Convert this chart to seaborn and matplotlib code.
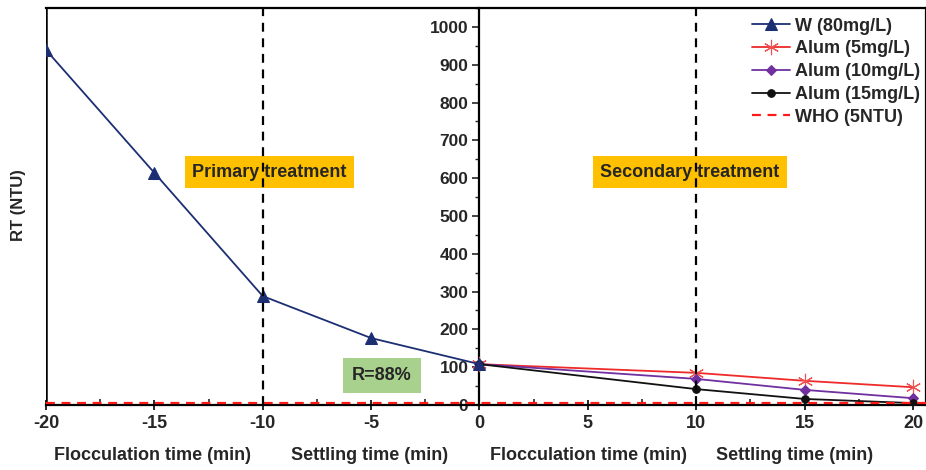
import matplotlib
matplotlib.use("Agg")
import matplotlib.pyplot as plt
import seaborn as sns
import pandas as pd
from matplotlib.ticker import MultipleLocator

sns.set_theme(style="white")
plt.rcParams['font.family'] = ['Liberation Sans', 'DejaVu Sans']
plt.rcParams['font.weight'] = 'bold'

# Data
w_x = [-20, -15, -10, -5, 0]
w_y = [939, 614, 288, 177, 108]
alum_x = [0, 10, 15, 20]
alum5_y = [108, 85, 64, 47]
alum10_y = [108, 69, 40, 18]
alum15_y = [108, 42, 16, 5]
who_x = [-20, 20.6]
who_y = [5, 5]
xticks = [-20, -15, -10, -5, 0, 5, 10, 15, 20]
yticks = [0, 100, 200, 300, 400, 500, 600, 700, 800, 900, 1000]
bottom_labels = ["Flocculation time (min)", "Settling time (min)",
                 "Flocculation time (min)", "Settling time (min)"]

FS = 13

fig = plt.figure(figsize=(9.26, 4.70), dpi=100)
ax = fig.add_axes([46/926, 1-405/470, 1-46/926, (405-8)/470])

sns.lineplot(x=w_x, y=w_y, ax=ax, color="#1c2f73", marker="^", markersize=8,
             markeredgecolor="#1c2f73", linewidth=1.3, label="W (80mg/L)", zorder=5)
sns.lineplot(x=alum_x, y=alum5_y, ax=ax, color="#ee2a2a", marker=(6, 2, 0), markersize=11,
             markeredgecolor="#f05050", markeredgewidth=0.8, linewidth=1.3, label="Alum (5mg/L)", zorder=4)
sns.lineplot(x=alum_x, y=alum10_y, ax=ax, color="#7030a0", marker="D", markersize=5.5,
             markeredgecolor="#7030a0", linewidth=1.3, label="Alum (10mg/L)", zorder=4)
sns.lineplot(x=alum_x, y=alum15_y, ax=ax, color="#111111", marker="o", markersize=5.5,
             markeredgecolor="#111111", linewidth=1.3, label="Alum (15mg/L)", zorder=4)
sns.lineplot(x=who_x, y=who_y, ax=ax, color="#ff1a1a", linestyle=(0, (4, 3)), linewidth=1.6,
             label="WHO (5NTU)", zorder=6)

ax.set_xlim(-20, 20.6)
ax.set_ylim(0, 1050)

# vertical dashed separators
for xv in (-10, 10):
    ax.axvline(xv, color="black", linestyle=(0, (4, 3)), linewidth=1.6, zorder=7)
# left border
ax.axvline(-20, color="black", linewidth=1.8, zorder=3)

# spines
ax.spines['left'].set_position(('data', 0))
for s in ('left', 'bottom', 'top', 'right'):
    ax.spines[s].set_color('black')
    ax.spines[s].set_linewidth(1.6)

ax.set_xticks(xticks)
ax.set_xticklabels([str(t) for t in xticks], fontsize=FS, fontweight='bold')
ax.xaxis.set_minor_locator(MultipleLocator(2.5))
ax.set_yticks(yticks)
ax.set_yticklabels([str(t) for t in yticks], fontsize=12.5, fontweight='bold')
ax.yaxis.set_minor_locator(MultipleLocator(50))
ax.tick_params(axis='x', which='major', direction='inout', length=7, width=1.4, pad=4)
ax.tick_params(axis='x', which='minor', direction='in', length=4, width=1.2)
ax.tick_params(axis='y', which='major', direction='out', length=5, width=1.2, pad=3)
ax.tick_params(axis='y', which='minor', direction='out', length=3, width=1.0)
ax.tick_params(bottom=True, left=True, which='both')
ax.set_xlabel("")
ax.set_ylabel("")

fig.text(18/926, 1-205/470, "RT (NTU)", rotation=90, ha='center', va='center',
         fontsize=12, fontweight='bold')

for lbl, px in zip(bottom_labels, [152, 370, 588, 795]):
    fig.text(px/926, 1-455/470, lbl, ha='center', va='center', fontsize=FS, fontweight='bold')

ax.text(-9.7, 616, "Primary treatment", ha='center', va='center', fontsize=FS, fontweight='bold',
        zorder=2, bbox=dict(boxstyle='square,pad=0.4', facecolor='#ffc000', edgecolor='none'))
ax.text(9.7, 616, "Secondary treatment", ha='center', va='center', fontsize=FS, fontweight='bold',
        zorder=2, bbox=dict(boxstyle='square,pad=0.4', facecolor='#ffc000', edgecolor='none'))
ax.text(-4.5, 78, "R=88%", ha='center', va='center', fontsize=FS, fontweight='bold',
        zorder=2, bbox=dict(boxstyle='square,pad=0.5', facecolor='#a9d18e', edgecolor='none'))

leg = ax.legend(loc='upper right', bbox_to_anchor=(1.006, 1.003), frameon=False,
                prop={'weight': 'bold', 'size': FS}, handlelength=2.1,
                labelspacing=0.32, handletextpad=0.3, borderaxespad=0.2)

fig.savefig("out.png", dpi=100)
